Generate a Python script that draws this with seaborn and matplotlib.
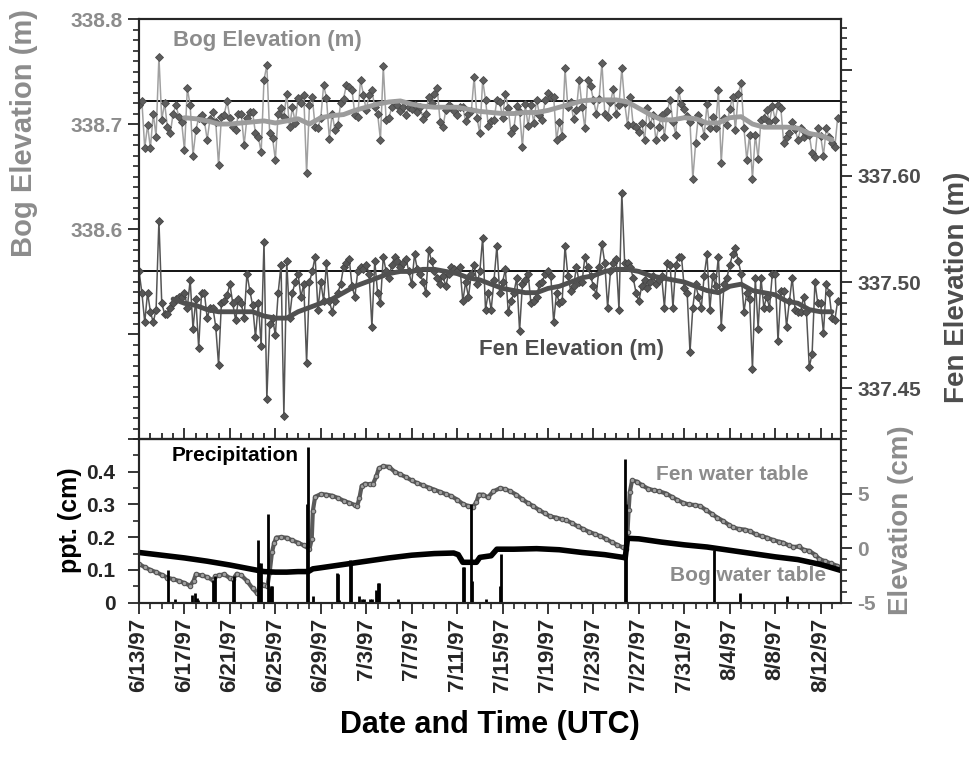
import numpy as np
import matplotlib
matplotlib.use("Agg")
import matplotlib.pyplot as plt
import seaborn as sns
from matplotlib.ticker import MultipleLocator

sns.set_style("ticks")
plt.rcParams["font.family"] = ["Liberation Sans", "DejaVu Sans"]
plt.rcParams["font.weight"] = "bold"
plt.rcParams["axes.linewidth"] = 1.5

# x is days since 6/13/97 00:00 UTC
date_labels = ["6/13/97", "6/17/97", "6/21/97", "6/25/97", "6/29/97", "7/3/97",
               "7/7/97", "7/11/97", "7/15/97", "7/19/97", "7/23/97", "7/27/97",
               "7/31/97", "8/4/97", "8/8/97", "8/12/97"]

# bog surface elevation (m), every 6 h
bog_elev = [
    338.718, 338.722, 338.677, 338.699, 338.677, 338.710, 338.688, 338.764,
    338.704, 338.720, 338.697, 338.691, 338.710, 338.718, 338.707, 338.702,
    338.675, 338.734, 338.718, 338.670, 338.694, 338.706, 338.709, 338.703,
    338.685, 338.705, 338.711, 338.702, 338.661, 338.707, 338.709, 338.722,
    338.706, 338.697, 338.694, 338.710, 338.710, 338.680, 338.706, 338.711,
    338.711, 338.691, 338.688, 338.673, 338.742, 338.756, 338.691, 338.687,
    338.666, 338.710, 338.715, 338.707, 338.729, 338.697, 338.716, 338.701,
    338.725, 338.720, 338.728, 338.653, 338.718, 338.726, 338.697, 338.696,
    338.706, 338.737, 338.725, 338.686, 338.710, 338.694, 338.699, 338.720,
    338.724, 338.737, 338.735, 338.732, 338.709, 338.707, 338.742, 338.728,
    338.713, 338.728, 338.732, 338.716, 338.710, 338.685, 338.755, 338.704,
    338.706, 338.716, 338.720, 338.718, 338.712, 338.716, 338.709, 338.716,
    338.714, 338.718, 338.711, 338.716, 338.705, 338.710, 338.726, 338.720,
    338.729, 338.734, 338.702, 338.697, 338.713, 338.718, 338.716, 338.712,
    338.709, 338.716, 338.716, 338.703, 338.710, 338.712, 338.745, 338.706,
    338.691, 338.742, 338.723, 338.698, 338.703, 338.704, 338.723, 338.721,
    338.706, 338.729, 338.715, 338.691, 338.696, 338.717, 338.711, 338.678,
    338.719, 338.698, 338.718, 338.701, 338.723, 338.709, 338.704, 338.723,
    338.730, 338.726, 338.726, 338.685, 338.702, 338.689, 338.753, 338.716,
    338.721, 338.705, 338.713, 338.742, 338.716, 338.696, 338.742, 338.736,
    338.723, 338.710, 338.724, 338.758, 338.710, 338.707, 338.721, 338.733,
    338.710, 338.718, 338.753, 338.720, 338.699, 338.726, 338.699, 338.697,
    338.692, 338.701, 338.685, 338.715, 338.699, 338.709, 338.685, 338.697,
    338.709, 338.688, 338.712, 338.723, 338.702, 338.690, 338.732, 338.719,
    338.714, 338.708, 338.702, 338.648, 338.682, 338.709, 338.702, 338.689,
    338.719, 338.696, 338.707, 338.696, 338.732, 338.663, 338.706, 338.699,
    338.714, 338.726, 338.694, 338.729, 338.739, 338.696, 338.666, 338.690,
    338.648, 338.690, 338.667, 338.704, 338.706, 338.713, 338.702, 338.717,
    338.704, 338.718, 338.715, 338.682, 338.688, 338.691, 338.702, 338.695,
    338.685, 338.696, 338.688, 338.691, 338.690, 338.672, 338.669, 338.696,
    338.689, 338.670, 338.696, 338.688, 338.682, 338.678, 338.706]

# fen surface elevation (m), every 6 h
fen_elev = [
    337.505, 337.495, 337.481, 337.495, 337.486, 337.481, 337.487, 337.529,
    337.490, 337.485, 337.485, 337.488, 337.490, 337.492, 337.493, 337.493,
    337.495, 337.488, 337.501, 337.478, 337.492, 337.469, 337.495, 337.495,
    337.483, 337.488, 337.488, 337.479, 337.461, 337.490, 337.491, 337.494,
    337.499, 337.490, 337.482, 337.492, 337.490, 337.483, 337.504, 337.496,
    337.489, 337.474, 337.490, 337.470, 337.519, 337.445, 337.480, 337.483,
    337.475, 337.495, 337.508, 337.437, 337.510, 337.483, 337.495, 337.500,
    337.504, 337.493, 337.499, 337.462, 337.500, 337.505, 337.512, 337.487,
    337.500, 337.491, 337.509, 337.491, 337.486, 337.491, 337.495, 337.499,
    337.507, 337.509, 337.511, 337.498, 337.493, 337.505, 337.507, 337.506,
    337.508, 337.504, 337.479, 337.510, 337.495, 337.490, 337.512, 337.505,
    337.502, 337.508, 337.512, 337.510, 337.507, 337.509, 337.511, 337.505,
    337.499, 337.513, 337.506, 337.504, 337.500, 337.495, 337.515, 337.510,
    337.505, 337.502, 337.499, 337.503, 337.498, 337.504, 337.507, 337.506,
    337.505, 337.507, 337.491, 337.500, 337.493, 337.504, 337.508, 337.499,
    337.505, 337.521, 337.487, 337.495, 337.487, 337.501, 337.517, 337.495,
    337.500, 337.506, 337.486, 337.491, 337.495, 337.502, 337.477, 337.499,
    337.501, 337.504, 337.490, 337.491, 337.493, 337.499, 337.500, 337.504,
    337.505, 337.503, 337.481, 337.495, 337.490, 337.491, 337.517, 337.503,
    337.496, 337.498, 337.507, 337.500, 337.500, 337.512, 337.507, 337.503,
    337.498, 337.494, 337.507, 337.518, 337.509, 337.488, 337.505, 337.509,
    337.511, 337.487, 337.542, 337.509, 337.509, 337.507, 337.502, 337.495,
    337.491, 337.498, 337.501, 337.497, 337.500, 337.503, 337.499, 337.501,
    337.503, 337.488, 337.509, 337.508, 337.488, 337.508, 337.512, 337.512,
    337.497, 337.495, 337.467, 337.488, 337.499, 337.493, 337.488, 337.503,
    337.513, 337.487, 337.503, 337.498, 337.512, 337.479, 337.499, 337.502,
    337.508, 337.513, 337.516, 337.510, 337.504, 337.486, 337.495, 337.492,
    337.459, 337.502, 337.478, 337.502, 337.488, 337.493, 337.488, 337.504,
    337.504, 337.472, 337.496, 337.496, 337.479, 337.491, 337.502, 337.487,
    337.486, 337.486, 337.493, 337.486, 337.460, 337.466, 337.500, 337.490,
    337.490, 337.476, 337.499, 337.495, 337.483, 337.482, 337.491]

# daily running means
bog_smooth = [
    338.706, 338.705, 338.703, 338.700, 338.700, 338.701, 338.702, 338.703,
    338.701, 338.703, 338.705, 338.700, 338.706, 338.708, 338.709, 338.713,
    338.716, 338.719, 338.721, 338.722, 338.719, 338.717, 338.716, 338.716,
    338.716, 338.714, 338.712, 338.711, 338.710, 338.710, 338.711, 338.711,
    338.713, 338.716, 338.719, 338.722, 338.723, 338.723, 338.723, 338.721,
    338.715, 338.709, 338.704, 338.704, 338.706, 338.705, 338.701, 338.701,
    338.706, 338.707, 338.700, 338.697, 338.697, 338.697, 338.696, 338.691,
    338.689, 338.685]
bog_smooth_start = 4
fen_smooth = [
    337.492, 337.490, 337.489, 337.487, 337.486, 337.486, 337.486, 337.486,
    337.484, 337.483, 337.483, 337.486, 337.488, 337.490, 337.492, 337.495,
    337.498, 337.500, 337.502, 337.504, 337.505, 337.505, 337.506, 337.506,
    337.505, 337.504, 337.502, 337.501, 337.499, 337.497, 337.496, 337.495,
    337.495, 337.497, 337.498, 337.500, 337.502, 337.503, 337.505, 337.506,
    337.506, 337.505, 337.503, 337.502, 337.501, 337.500, 337.498, 337.496,
    337.495, 337.498, 337.499, 337.496, 337.495, 337.494, 337.491, 337.490,
    337.487, 337.486, 337.486]
fen_smooth_start = 3

bog_ref = 338.722
fen_ref = 337.505

# precipitation (cm)
ppt_day = [2.55, 3.2, 4.7, 4.93, 5.1, 5.2, 6.55, 6.65, 8.25, 8.36, 10.5, 10.6,
           10.7, 11.38, 11.5, 11.6, 11.7, 14.8, 14.9, 15.3, 17.4, 17.5, 17.6,
           18.6, 18.7, 19.4, 19.6, 19.8, 20.3, 20.5, 20.9, 21.0, 21.1, 22.8,
           28.5, 28.6, 29.2, 29.35, 30.5, 31.8, 31.9, 42.75, 42.85, 50.6,
           52.9, 57.0]
ppt_cm = [0.10, 0.01, 0.022, 0.03, 0.013, 0.008, 0.07, 0.08, 0.07, 0.08, 0.19,
          0.12, 0.12, 0.27, 0.045, 0.05, 0.05, 0.30, 0.475, 0.02, 0.09, 0.088,
          0.008, 0.13, 0.125, 0.02, 0.01, 0.01, 0.01, 0.01, 0.04, 0.06, 0.06,
          0.01, 0.11, 0.11, 0.30, 0.065, 0.01, 0.05, 0.15, 0.44, 0.30, 0.16,
          0.03, 0.02]

# water tables (cm)
fen_wt_day = [0.0, 0.5, 1.0, 1.5, 2.0, 2.5, 3.0, 3.5, 4.0, 4.5, 4.8, 5.0, 5.5,
              6.0, 6.5, 6.7, 7.0, 7.5, 8.0, 8.3, 8.6, 9.0, 9.5, 10.0, 10.4,
              10.7, 11.0, 11.3, 11.5, 11.7, 11.9, 12.1, 12.5, 13.0, 13.5, 14.0,
              14.5, 15.0, 15.2, 15.3, 15.5, 16.0, 16.5, 17.0, 17.5, 18.0, 18.5,
              19.0, 19.2, 19.4, 19.6, 19.9, 20.3, 20.6, 20.9, 21.1, 21.5, 22.0,
              22.5, 23.0, 23.5, 24.0, 24.5, 25.0, 25.5, 26.0, 26.5, 27.0, 27.5,
              28.0, 28.5, 29.0, 29.4, 29.7, 29.9, 30.3, 30.7, 31.2, 31.8, 32.2,
              32.7, 33.2, 33.7, 34.2, 34.7, 35.2, 35.7, 36.2, 36.7, 37.2, 37.6,
              38.1, 38.6, 39.1, 39.6, 40.1, 40.6, 41.1, 41.6, 42.1, 42.6, 42.9,
              43.0, 43.1, 43.2, 43.4, 43.8, 44.3, 44.8, 45.3, 45.8, 46.4, 46.9,
              47.4, 47.9, 48.4, 48.9, 49.4, 49.9, 50.4, 50.9, 51.4, 51.9, 52.3,
              52.8, 53.3, 53.8, 54.3, 54.8, 55.3, 55.8, 56.3, 56.7, 57.2, 57.6,
              58.1, 58.5, 59.0, 59.5, 59.9, 60.4, 60.9, 61.4, 61.8]
fen_wt_cm = [-1.45, -1.75, -2.0, -2.2, -2.45, -2.7, -2.85, -3.0, -3.2, -3.45,
             -3.0, -2.4, -2.5, -2.65, -2.95, -2.6, -2.5, -2.4, -2.75, -2.8,
             -2.35, -2.5, -3.0, -3.7, -4.15, -3.3, -3.35, -3.5, -2.2, -0.4, 0.5,
             0.97, 1.0, 0.95, 0.7, 0.5, 0.25, -0.1, 0.8, 3.4, 4.7, 4.95, 4.9,
             4.8, 4.6, 4.35, 4.15, 3.95, 3.85, 4.6, 5.7, 5.9, 5.85, 5.9, 6.6,
             7.3, 7.5, 7.45, 7.0, 6.75, 6.5, 6.2, 5.95, 5.75, 5.55, 5.35, 5.15,
             4.95, 4.75, 4.45, 4.05, 3.85, 3.8, 4.2, 4.9, 4.9, 4.65, 5.2, 5.5,
             5.4, 5.2, 4.9, 4.5, 4.15, 3.85, 3.5, 3.2, 2.9, 2.8, 2.65, 2.55, 2.3,
             2.0, 1.75, 1.5, 1.3, 1.1, 0.85, 0.55, 0.3, 0.06, -0.1, 1.5, 3.5,
             5.1, 6.2, 6.1, 5.75, 5.45, 5.3, 5.2, 5.0, 4.7, 4.4, 4.15, 4.0, 3.95,
             3.85, 3.5, 3.15, 2.8, 2.5, 2.15, 1.9, 1.75, 1.7, 1.55, 1.25, 1.1,
             0.95, 0.75, 0.6, 0.5, 0.25, 0.1, 0.15, -0.15, -0.25, -0.6, -1.0,
             -1.2, -1.4, -1.6, -1.8]
bog_wt_day = [0, 2, 4, 6, 8, 10, 11, 12, 13, 14, 14.9, 15.3, 16, 18, 20, 22,
              24, 26, 27.7, 28.1, 28.5, 29.7, 30.0, 31.0, 31.5, 33, 35, 37, 39,
              41, 42.6, 42.8, 43.0, 44, 46, 48, 50, 52, 54, 56, 58, 60, 61.8]
bog_wt_cm = [-0.4, -0.65, -0.9, -1.2, -1.55, -1.95, -2.15, -2.2, -2.2, -2.15,
             -2.15, -1.9, -1.8, -1.5, -1.2, -0.9, -0.65, -0.5, -0.45, -0.6, -1.3,
             -1.3, -0.85, -0.7, -0.1, -0.1, -0.05, -0.15, -0.4, -0.6, -0.85,
             -0.9, 0.9, 0.85, 0.55, 0.3, 0.1, -0.2, -0.5, -0.8, -1.05, -1.5,
             -2.05]

GRAY = "#8c8c8c"
DARK = "#4d4d4d"

bog_t = np.arange(len(bog_elev)) / 4
fen_t = np.arange(len(fen_elev)) / 4
bog_st = np.arange(len(bog_smooth)) + bog_smooth_start
fen_st = np.arange(len(fen_smooth)) + fen_smooth_start

fig = plt.figure(figsize=(9.73, 7.58), dpi=100)
ax1 = fig.add_axes([0.1429, 0.4208, 0.7215, 0.5541])
ax2 = ax1.twinx()
ax3 = fig.add_axes([0.1429, 0.2049, 0.7215, 0.2160], sharex=ax1)
ax4 = ax3.twinx()

# top: bog and fen surface elevation
ax1.axhline(bog_ref, color="black", lw=1.3, zorder=1)
sns.lineplot(x=bog_t, y=bog_elev, ax=ax1, color="#a0a0a0", lw=1.1,
             marker="D", markersize=3.6, markerfacecolor="#5e5e5e",
             markeredgecolor="#4a4a4a", markeredgewidth=0.6, estimator=None)
sns.lineplot(x=bog_st, y=bog_smooth, ax=ax1, color="#9c9c9c", lw=3.5,
             estimator=None)
ax2.axhline(fen_ref, color="black", lw=1.3, zorder=1)
sns.lineplot(x=fen_t, y=fen_elev, ax=ax2, color="#555555", lw=1.1,
             marker="D", markersize=3.6, markerfacecolor="#555555",
             markeredgecolor="#444444", markeredgewidth=0.6, estimator=None)
sns.lineplot(x=fen_st, y=fen_smooth, ax=ax2, color="#505050", lw=3.5,
             estimator=None)

ax1.text(11.3, 338.780, "Bog Elevation (m)", ha="center", va="center",
         color=GRAY, fontsize=16, fontweight="bold")
ax2.text(38.1, 337.468, "Fen Elevation (m)", ha="center", va="center",
         color=DARK, fontsize=16, fontweight="bold")

# bottom: water tables and precipitation
sns.lineplot(x=fen_wt_day, y=fen_wt_cm, ax=ax4, color="#5a5a5a", lw=3.0,
             marker="o", markersize=3.2, markerfacecolor="#a0a0a0",
             markeredgecolor="#555555", markeredgewidth=0.8, estimator=None)
sns.lineplot(x=bog_wt_day, y=bog_wt_cm, ax=ax4, color="black", lw=4.0,
             estimator=None)
ax3.vlines(ppt_day, 0, ppt_cm, color="black", lw=2.0)
ax3.set_zorder(ax4.get_zorder() + 1)
ax3.patch.set_visible(False)

ax3.text(2.9, 0.451, "Precipitation", ha="left", va="center", color="black",
         fontsize=15, fontweight="bold")
ax4.text(52.2, 6.7, "Fen water table", ha="center", va="center", color=GRAY,
         fontsize=15, fontweight="bold")
ax4.text(53.6, -2.5, "Bog water table", ha="center", va="center", color=GRAY,
         fontsize=15, fontweight="bold")

# axes, ticks
ax1.set_xlim(0, 61.8)
ax1.set_ylim(338.4, 338.8)
ax1.set_yticks([338.4, 338.5, 338.6, 338.7, 338.8])
ax1.set_yticklabels(["", "", "338.6", "338.7", "338.8"])
ax1.yaxis.set_minor_locator(MultipleLocator(0.01))
ax2.set_ylim(337.426, 337.624)
ax2.set_yticks([337.45, 337.50, 337.55, 337.60])
ax2.set_yticklabels(["337.45", "337.50", "337.60", ""])
ax2.yaxis.set_minor_locator(MultipleLocator(0.005))
ax3.set_ylim(0, 0.5)
ax3.set_yticks([0, 0.1, 0.2, 0.3, 0.4])
ax3.set_yticklabels(["0", "0.1", "0.2", "0.3", "0.4"])
ax3.yaxis.set_minor_locator(MultipleLocator(0.05))
ax4.set_ylim(-5, 10)
ax4.set_yticks([-5, 0, 5])
ax4.set_yticklabels(["-5", "0", "5"])
ax4.yaxis.set_minor_locator(MultipleLocator(1))

ax3.set_xticks(np.arange(len(date_labels)) * 4)
ax3.set_xticklabels(date_labels, rotation=90)
ax3.xaxis.set_minor_locator(MultipleLocator(1))

for ax in (ax1, ax2, ax3, ax4):
    ax.set_xlabel("")
    ax.set_ylabel("")
    for s in ax.spines.values():
        s.set_linewidth(1.5)

ax1.tick_params(axis="x", which="both", direction="in", labelbottom=False,
                width=1.3)
ax1.tick_params(axis="x", which="major", length=8)
ax1.tick_params(axis="x", which="minor", length=4)
ax1.tick_params(axis="y", which="major", length=8, width=1.3, labelsize=15,
                labelcolor=GRAY)
ax1.tick_params(axis="y", which="minor", length=4, width=1.2)
ax2.tick_params(axis="y", which="major", length=8, width=1.3, labelsize=15,
                labelcolor=DARK)
ax2.tick_params(axis="y", which="minor", length=4, width=1.2)
ax3.tick_params(axis="x", which="major", length=8, width=1.3, labelsize=16,
                pad=3)
ax3.tick_params(axis="x", which="minor", length=4, width=1.2)
ax3.tick_params(axis="y", which="major", length=8, width=1.3, labelsize=15,
                pad=9)
ax3.tick_params(axis="y", which="minor", length=4, width=1.2)
ax4.tick_params(axis="y", which="major", length=8, width=1.3, labelsize=15,
                labelcolor=GRAY)
ax4.tick_params(axis="y", which="minor", length=4, width=1.2)

fig.text(24 / 973, 1 - 133 / 758, "Bog Elevation (m)", rotation=90,
         ha="center", va="center", color=GRAY, fontsize=21, fontweight="bold")
fig.text(957 / 973, 1 - 287 / 758, "Fen Elevation (m)", rotation=90,
         ha="center", va="center", color=DARK, fontsize=20, fontweight="bold")
fig.text(70 / 973, 1 - 520 / 758, "ppt. (cm)", rotation=90,
         ha="center", va="center", color="black", fontsize=18,
         fontweight="bold")
fig.text(901 / 973, 1 - 520 / 758, "Elevation (cm)", rotation=90,
         ha="center", va="center", color=GRAY, fontsize=20, fontweight="bold")
fig.text(490 / 973, 1 - 725 / 758, "Date and Time (UTC)", ha="center",
         va="center", color="black", fontsize=22, fontweight="bold")

fig.savefig("out.png", dpi=100)
